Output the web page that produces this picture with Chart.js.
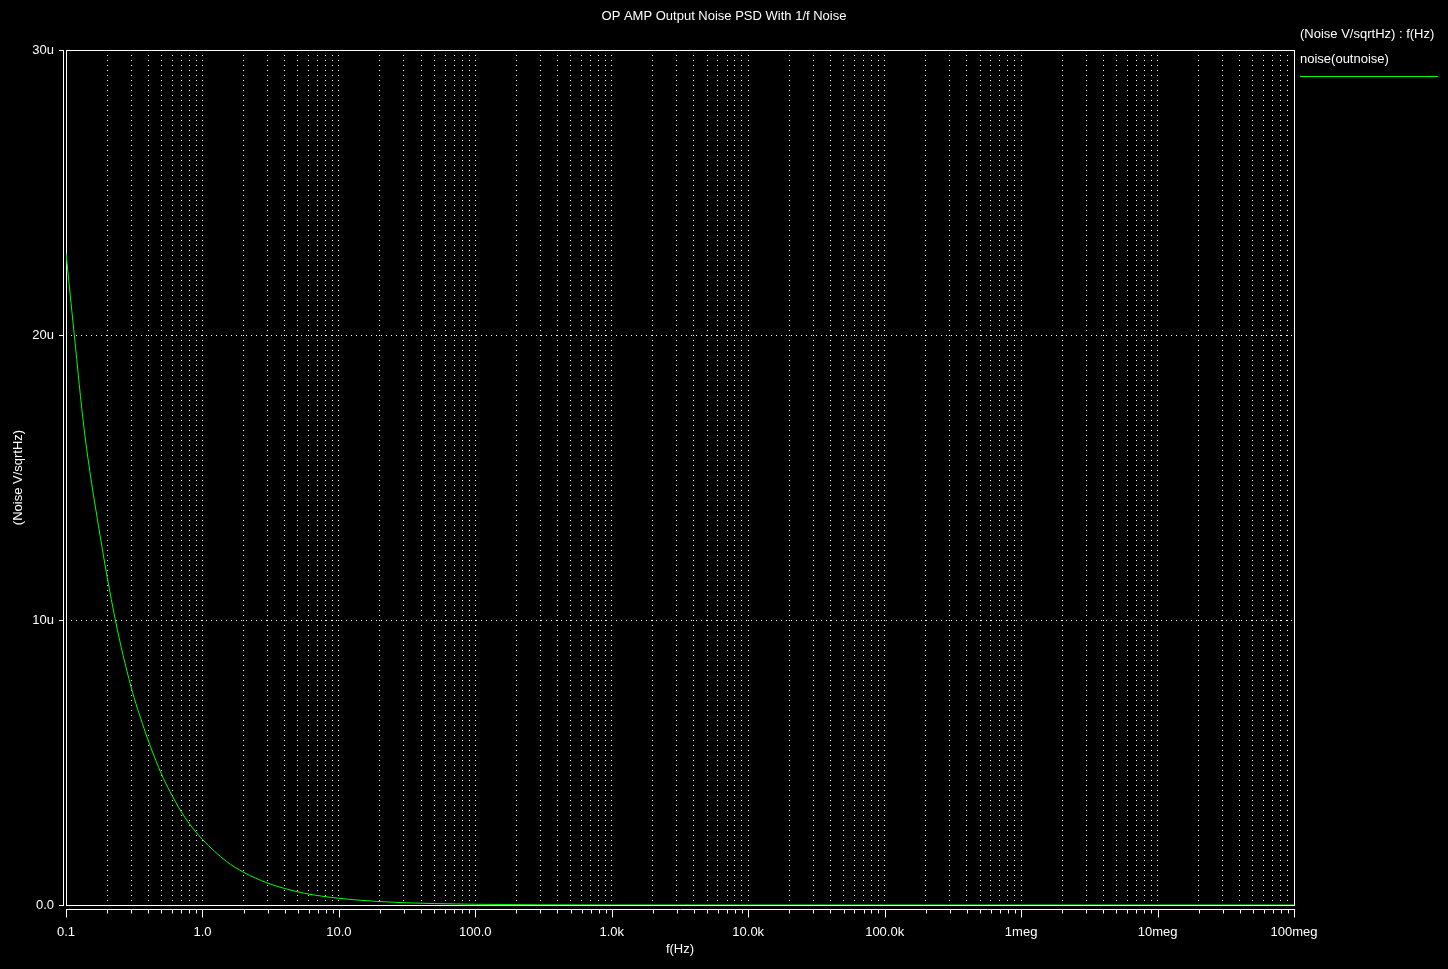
<!DOCTYPE html>
<html>
<head>
<meta charset="utf-8">
<title>OP AMP Output Noise PSD</title>
<script src="https://cdn.jsdelivr.net/npm/chart.js@4.4.0/dist/chart.umd.min.js"></script>
<style>
  html, body { margin: 0; padding: 0; background: #000; }
  #wrap { width: 1448px; height: 969px; position: relative; }
</style>
</head>
<body>
<div id="wrap"><canvas id="noiseChart"></canvas></div>
<script>
const chartTitle = 'OP AMP Output Noise PSD With 1/f Noise';
const legendTitle = '(Noise V/sqrtHz) : f(Hz)';
const seriesName = 'noise(outnoise)';
const xTitle = 'f(Hz)';
const yTitle = '(Noise V/sqrtHz)';

// frequency in Hz, noise in uV/sqrtHz
const freqs = [0.1, 0.115, 0.136, 0.175, 0.23, 0.3, 0.373, 0.413, 0.5, 0.578, 0.7, 0.8, 1.0, 1.5, 2, 3, 4, 5.6,
  10, 15, 20, 30, 50, 100, 300, 1e3, 1e4, 1e5, 1e6, 1e7, 1e8];
const noise = [22.87, 20.0, 16.67, 13.16, 10.0, 7.65, 6.2, 5.6, 4.6, 3.98, 3.27, 2.86, 2.3, 1.53, 1.15, 0.77, 0.58, 0.41,
  0.235, 0.16, 0.12, 0.08, 0.05, 0.025, 0.008, 0.0025, 0.0003, 0.00005, 0.00002, 0.00002, 0.00002];

// axis ticks
const decades = [0.1, 1, 10, 100, 1e3, 1e4, 1e5, 1e6, 1e7, 1e8];
const decadeLabels = ['0.1', '1.0', '10.0', '100.0', '1.0k', '10.0k', '100.0k', '1meg', '10meg', '100meg'];
const minorSteps = [1, 2, 3, 4, 5, 6, 7, 8, 9];
const yTicks = [0, 10, 20, 30];
const yTickLabels = ['0.0', '10u', '20u', '30u'];

const font = { family: 'Liberation Sans, Arial, sans-serif', size: 13, weight: 'normal' };
const lineGreen = '#00ff00';

const xTickList = [];
decades.forEach((d, i) => {
  if (i === decades.length - 1) {
    xTickList.push({ value: d, major: true });
    return;
  }
  minorSteps.forEach(m => xTickList.push({ value: d * m, major: m === 1 }));
});

// box round the plot, separate axis lines with tick marks, title and legend
const frameAndAxes = {
  id: 'frameAndAxes',
  beforeDatasetsDraw(chart) {
    const { ctx, chartArea: a, scales: { x, y } } = chart;
    ctx.save();
    ctx.strokeStyle = '#ffffff';
    ctx.lineWidth = 1;
    ctx.strokeRect(a.left + 0.5, a.top + 0.5, a.right - a.left, a.bottom - a.top);

    ctx.beginPath();
    ctx.moveTo(a.left - 2.5, a.top);
    ctx.lineTo(a.left - 2.5, a.bottom + 1);
    y.ticks.forEach(t => {
      const py = Math.round(y.getPixelForValue(t.value)) + 0.5;
      ctx.moveTo(a.left - 7, py);
      ctx.lineTo(a.left - 2, py);
    });

    const ax = a.bottom + 4.5;
    ctx.moveTo(a.left, ax);
    ctx.lineTo(a.right + 1, ax);
    x.ticks.forEach(t => {
      const px = Math.round(x.getPixelForValue(t.value)) + 0.5;
      ctx.moveTo(px, ax);
      ctx.lineTo(px, ax + (t.major ? 8 : 4));
    });
    ctx.stroke();
    ctx.restore();
  },
  afterDraw(chart) {
    const { ctx, chartArea: a, width } = chart;
    const ds = chart.data.datasets[0];
    const lx = a.right + 6;
    ctx.save();
    ctx.fillStyle = '#ffffff';
    ctx.font = font.size + 'px ' + font.family;
    ctx.textBaseline = 'middle';
    ctx.textAlign = 'center';
    ctx.fillText(chartTitle, width / 2, 16);
    ctx.textAlign = 'left';
    ctx.fillText(legendTitle, lx, 34);
    ctx.fillText(ds.label, lx, 59);
    ctx.strokeStyle = ds.borderColor;
    ctx.lineWidth = 1;
    ctx.beginPath();
    ctx.moveTo(lx, 76.5);
    ctx.lineTo(lx + 138, 76.5);
    ctx.stroke();
    ctx.restore();
  }
};

new Chart(document.getElementById('noiseChart'), {
  type: 'line',
  data: {
    labels: freqs,
    datasets: [{
      label: seriesName,
      data: freqs.map((f, i) => ({ x: f, y: noise[i] })),
      borderColor: lineGreen,
      borderWidth: 1,
      pointRadius: 0,
      fill: false,
      cubicInterpolationMode: 'monotone'
    }]
  },
  options: {
    responsive: true,
    maintainAspectRatio: false,
    animation: false,
    layout: { padding: { left: 0, right: 154, top: 50, bottom: 0 } },
    plugins: {
      legend: { display: false },
      tooltip: { enabled: false },
      title: { display: false }
    },
    scales: {
      x: {
        type: 'logarithmic',
        min: 0.1,
        max: 1e8,
        afterBuildTicks: s => { s.ticks = xTickList.map(t => ({ value: t.value, major: t.major })); },
        afterFit: s => { s.height = 64; },
        grid: {
          color: c => (c.tick && (c.tick.value === 0.1 || c.tick.value === 1e8)) ? 'rgba(0,0,0,0)' : '#ffffff',
          lineWidth: 1,
          drawTicks: false
        },
        border: { display: false, dash: [1, 4] },
        ticks: {
          autoSkip: false,
          maxRotation: 0,
          color: '#ffffff',
          font: font,
          padding: 20,
          callback: v => {
            const i = decades.indexOf(v);
            return i >= 0 ? decadeLabels[i] : '';
          }
        },
        title: { display: true, text: xTitle, color: '#ffffff', font: font, padding: { top: 0, bottom: 12 } }
      },
      y: {
        type: 'linear',
        min: 0,
        max: 30,
        afterBuildTicks: s => { s.ticks = yTicks.map(v => ({ value: v })); },
        afterFit: s => { s.width = 66; },
        grid: {
          color: c => (c.tick && (c.tick.value === 0 || c.tick.value === 30)) ? 'rgba(0,0,0,0)' : '#ffffff',
          lineWidth: 1,
          drawTicks: false
        },
        border: { display: false, dash: [1, 4] },
        ticks: {
          color: '#ffffff',
          font: font,
          padding: 12,
          callback: v => yTickLabels[yTicks.indexOf(v)]
        },
        title: { display: true, text: yTitle, color: '#ffffff', font: font, padding: { top: 11, bottom: 0 } }
      }
    }
  },
  plugins: [frameAndAxes]
});
</script>
</body>
</html>
